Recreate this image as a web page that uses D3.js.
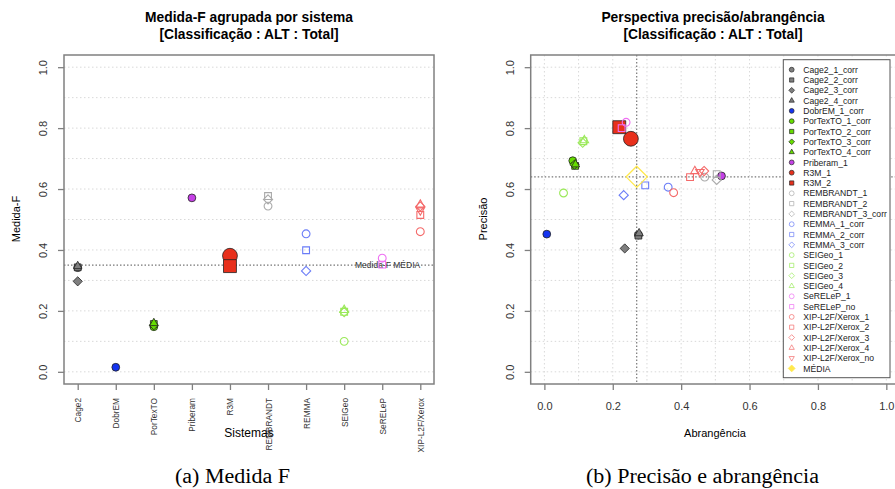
<!DOCTYPE html>
<html>
<head>
<meta charset="utf-8">
<script src="https://cdn.jsdelivr.net/npm/d3@7"></script>
<style>
  body { margin: 0; background: #fff; }
  svg { display: block; font-family: "Liberation Sans", Arial, sans-serif; }
</style>
</head>
<body>
<div id="screen"></div>
<script>
var width = 895;
var height = 489;

// systems (x categories of the left chart)
var systems = ["Cage2", "DobrEM", "PorTexTO", "Priberam", "R3M", "REMBRANDT", "REMMA", "SEIGeo", "SeRELeP", "XIP-L2F/Xerox"];

// runs and which system they belong to
var runs = ["Cage2_1_corr", "Cage2_2_corr", "Cage2_3_corr", "Cage2_4_corr", "DobrEM_1_corr",
  "PorTexTO_1_corr", "PorTexTO_2_corr", "PorTexTO_3_corr", "PorTexTO_4_corr", "Priberam_1",
  "R3M_1", "R3M_2", "REMBRANDT_1", "REMBRANDT_2", "REMBRANDT_3_corr",
  "REMMA_1_corr", "REMMA_2_corr", "REMMA_3_corr", "SEIGeo_1", "SEIGeo_2", "SEIGeo_3", "SEIGeo_4",
  "SeRELeP_1", "SeRELeP_no", "XIP-L2F/Xerox_1", "XIP-L2F/Xerox_2", "XIP-L2F/Xerox_3",
  "XIP-L2F/Xerox_4", "XIP-L2F/Xerox_no"];
var runSystem = [0, 0, 0, 0, 1, 2, 2, 2, 2, 3, 4, 4, 5, 5, 5, 6, 6, 6, 7, 7, 7, 7, 8, 8, 9, 9, 9, 9, 9];

// values
var fValue = [0.342, 0.343, 0.297, 0.347, 0.015, 0.148, 0.157, 0.153, 0.160, 0.571,
  0.381, 0.347, 0.544, 0.577, 0.566, 0.453, 0.399, 0.331, 0.100, 0.197, 0.196, 0.203,
  0.373, 0.352, 0.460, 0.515, 0.543, 0.549, 0.530];
var recall = [0.275, 0.275, 0.235, 0.277, 0.007, 0.083, 0.090, 0.088, 0.091, 0.518,
  0.253, 0.219, 0.469, 0.504, 0.504, 0.362, 0.295, 0.232, 0.056, 0.114, 0.112, 0.117,
  0.239, 0.226, 0.378, 0.426, 0.467, 0.440, 0.455];
var precision = [0.449, 0.447, 0.405, 0.455, 0.452, 0.693, 0.676, 0.680, 0.681, 0.643,
  0.765, 0.803, 0.639, 0.649, 0.630, 0.606, 0.612, 0.580, 0.587, 0.757, 0.752, 0.760,
  0.819, 0.800, 0.588, 0.639, 0.659, 0.659, 0.656];

var meanF = 0.35;
var meanRecall = 0.27;
var meanPrecision = 0.64;

var ticks = [0, 0.2, 0.4, 0.6, 0.8, 1.0];
var gridTicks = [0, 0.1, 0.2, 0.3, 0.4, 0.5, 0.6, 0.7, 0.8, 0.9, 1.0];

// styles
var sysColor = ["#7f7f7f", "#1434f0", "#66dd00", "#c540e6", "#e8301c", "#aaaaaa", "#6a7cf7", "#9be95a", "#ee70f2", "#f46a6a"];
var sysFilled = [true, true, true, true, true, false, false, false, false, false];
var sysScale = [1, 1, 1, 1, 1.9, 1, 1, 1, 1, 1];
var shapeOrder = ["circle", "square", "diamond", "up", "down"];
var mediaColor = "#ffe84d";
var boxColor = "#808080";
var gridColor = "#d9d9d9";
var refColor = "#777";

var runShape = runs.map(function(r, i){
  var k = 0;
  for (var j = 0; j < i; j++) if (runSystem[j] == runSystem[i]) k++;
  return shapeOrder[k];
});

var shapePath = function(shape, k){
  var s;
  if (shape == "circle"){ s = 3.9 * k; return "M" + s + ",0A" + s + "," + s + " 0 1,1 " + (-s) + ",0A" + s + "," + s + " 0 1,1 " + s + ",0Z"; }
  if (shape == "square"){ s = 3.4 * k; return "M" + (-s) + "," + (-s) + "H" + s + "V" + s + "H" + (-s) + "Z"; }
  if (shape == "diamond"){ s = 4.6 * k; return "M0," + (-s) + "L" + s + ",0L0," + s + "L" + (-s) + ",0Z"; }
  if (shape == "up"){ s = 4.2 * k; return "M0," + (-1.15 * s) + "L" + s + "," + (0.6 * s) + "L" + (-s) + "," + (0.6 * s) + "Z"; }
  s = 4.2 * k; return "M0," + (1.15 * s) + "L" + s + "," + (-0.6 * s) + "L" + (-s) + "," + (-0.6 * s) + "Z";
};

var styleMark = function(sel, i){
  var c = sysColor[runSystem[i]];
  if (sysFilled[runSystem[i]]){
    sel.attr("fill", c).attr("stroke", "#222").attr("stroke-width", 0.8);
  } else {
    sel.attr("fill", "none").attr("stroke", c).attr("stroke-width", 1.1);
  }
};

var svg = d3.select("#screen").append("svg").attr("width", width).attr("height", height);

// ---------- left chart: Medida-F ----------
var xL = d3.scaleLinear().domain([0.64, 10.36]).range([64, 434]);
var yL = d3.scaleLinear().domain([-0.04, 1.04]).range([384, 55]);

var left = svg.append("g");
left.selectAll("line.grid").data(gridTicks).enter().append("line")
  .attr("x1", 64).attr("x2", 434)
  .attr("y1", function(d){ return yL(d); }).attr("y2", function(d){ return yL(d); })
  .attr("stroke", gridColor).attr("stroke-dasharray", "1.5,2.5");

left.append("line").attr("x1", 64).attr("x2", 434).attr("y1", yL(meanF)).attr("y2", yL(meanF))
  .attr("stroke", refColor).attr("stroke-width", 1.2).attr("stroke-dasharray", "1.5,2");
left.append("text").attr("x", 355).attr("y", yL(meanF) + 3).attr("font-size", 8.5).attr("fill", "#333")
  .text("Medida-F MÉDIA");

var yAxisL = left.append("g").attr("transform", "translate(64,0)")
  .call(d3.axisLeft(yL).tickValues(ticks).tickSize(6).tickFormat(d3.format(".1f")));
var xAxisL = left.append("g").attr("transform", "translate(0,384)")
  .call(d3.axisBottom(xL).tickValues(d3.range(1, 11)).tickSize(6).tickFormat(function(d){ return systems[d - 1]; }));

[yAxisL, xAxisL].forEach(function(a){
  a.select(".domain").remove();
  a.selectAll("line").attr("stroke", boxColor).attr("stroke-width", 1.3);
  a.selectAll("text").attr("fill", "#333").attr("font-family", "Liberation Sans, Arial, sans-serif");
});
yAxisL.selectAll("text").attr("x", 0).attr("dy", 0).attr("font-size", 11)
  .attr("text-anchor", "middle").attr("transform", "translate(-17,0) rotate(-90)");
xAxisL.selectAll("text").attr("x", 0).attr("y", 0).attr("dy", 0).attr("font-size", 8.3)
  .attr("text-anchor", "end").attr("transform", "translate(3,14) rotate(-90)");

left.append("rect").attr("x", 64).attr("y", 55).attr("width", 370).attr("height", 329)
  .attr("fill", "none").attr("stroke", boxColor).attr("stroke-width", 1.5);

left.selectAll("path.mark").data(runs).enter().append("path")
  .attr("class", "mark")
  .attr("transform", function(d, i){ return "translate(" + xL(runSystem[i] + 1) + "," + yL(fValue[i]) + ")"; })
  .attr("d", function(d, i){ return shapePath(runShape[i], sysScale[runSystem[i]]); })
  .each(function(d, i){ styleMark(d3.select(this), i); });

left.append("text").attr("x", 249).attr("y", 22).attr("text-anchor", "middle")
  .attr("font-size", 13.8).attr("font-weight", "bold").text("Medida-F agrupada por sistema");
left.append("text").attr("x", 249).attr("y", 38.5).attr("text-anchor", "middle")
  .attr("font-size", 13.8).attr("font-weight", "bold").text("[Classificação : ALT : Total]");
left.append("text").attr("transform", "translate(20,219) rotate(-90)").attr("text-anchor", "middle")
  .attr("font-size", 11).text("Medida-F");
left.append("text").attr("x", 249).attr("y", 437).attr("text-anchor", "middle")
  .attr("font-size", 12).text("Sistemas");

// ---------- right chart: precisão / abrangência ----------
var xR = d3.scaleLinear().domain([-0.04, 1.04]).range([530.7, 900]);
var yR = d3.scaleLinear().domain([-0.04, 1.04]).range([384, 55]);

var right = svg.append("g");
right.selectAll("line.gh").data(gridTicks).enter().append("line")
  .attr("x1", 530.7).attr("x2", 900)
  .attr("y1", function(d){ return yR(d); }).attr("y2", function(d){ return yR(d); })
  .attr("stroke", gridColor).attr("stroke-dasharray", "1.5,2.5");
right.selectAll("line.gv").data(gridTicks).enter().append("line")
  .attr("y1", 55).attr("y2", 384)
  .attr("x1", function(d){ return xR(d); }).attr("x2", function(d){ return xR(d); })
  .attr("stroke", gridColor).attr("stroke-dasharray", "1.5,2.5");

right.append("line").attr("x1", xR(meanRecall)).attr("x2", xR(meanRecall)).attr("y1", 55).attr("y2", 384)
  .attr("stroke", refColor).attr("stroke-width", 1.2).attr("stroke-dasharray", "1.5,2");
right.append("line").attr("x1", 530.7).attr("x2", 900).attr("y1", yR(meanPrecision)).attr("y2", yR(meanPrecision))
  .attr("stroke", refColor).attr("stroke-width", 1.2).attr("stroke-dasharray", "1.5,2");

var yAxisR = right.append("g").attr("transform", "translate(530.7,0)")
  .call(d3.axisLeft(yR).tickValues(ticks).tickSize(6).tickFormat(d3.format(".1f")));
var xAxisR = right.append("g").attr("transform", "translate(0,384)")
  .call(d3.axisBottom(xR).tickValues(ticks).tickSize(6).tickFormat(d3.format(".1f")));
[yAxisR, xAxisR].forEach(function(a){
  a.select(".domain").remove();
  a.selectAll("line").attr("stroke", boxColor).attr("stroke-width", 1.3);
  a.selectAll("text").attr("fill", "#333").attr("font-size", 11).attr("font-family", "Liberation Sans, Arial, sans-serif");
});
yAxisR.selectAll("text").attr("x", 0).attr("dy", 0)
  .attr("text-anchor", "middle").attr("transform", "translate(-17,0) rotate(-90)");
xAxisR.selectAll("text").attr("y", 0).attr("dy", 0).attr("transform", "translate(0,26)");

right.append("rect").attr("x", 530.7).attr("y", 55).attr("width", 369.3).attr("height", 329)
  .attr("fill", "none").attr("stroke", boxColor).attr("stroke-width", 1.5);

right.selectAll("path.mark").data(runs).enter().append("path")
  .attr("class", "mark")
  .attr("transform", function(d, i){ return "translate(" + xR(recall[i]) + "," + yR(precision[i]) + ")"; })
  .attr("d", function(d, i){ return shapePath(runShape[i], sysScale[runSystem[i]]); })
  .each(function(d, i){ styleMark(d3.select(this), i); });

right.append("path")
  .attr("transform", "translate(" + xR(meanRecall) + "," + yR(meanPrecision) + ")")
  .attr("d", shapePath("diamond", 2.3))
  .attr("fill", "none").attr("stroke", mediaColor).attr("stroke-width", 1.3);

// legend
var legend = right.append("g");
legend.append("rect").attr("x", 783.3).attr("y", 59.7).attr("width", 106.7).attr("height", 318)
  .attr("fill", "#fff").attr("stroke", "#555").attr("stroke-width", 1);
var legendRows = runs.concat(["MÉDIA"]);
var rowY = function(i){ return 69.7 + i * 10.3; };
legend.selectAll("path.lm").data(legendRows).enter().append("path")
  .attr("class", "lm")
  .attr("transform", function(d, i){ return "translate(791.7," + rowY(i) + ")"; })
  .attr("d", function(d, i){ return shapePath(i < runs.length ? runShape[i] : "diamond", i < runs.length ? 0.62 : 0.75); })
  .each(function(d, i){
    if (i < runs.length) styleMark(d3.select(this), i);
    else d3.select(this).attr("fill", mediaColor).attr("stroke", mediaColor);
  });
legend.selectAll("path.lm").attr("stroke-width", 0.7);
legend.selectAll("text").data(legendRows).enter().append("text")
  .attr("x", 803.3).attr("y", function(d, i){ return rowY(i) + 3.1; })
  .attr("font-size", 8.6).attr("fill", "#222").text(function(d){ return d; });

right.append("text").attr("x", 713).attr("y", 22).attr("text-anchor", "middle")
  .attr("font-size", 13.8).attr("font-weight", "bold").text("Perspectiva precisão/abrangência");
right.append("text").attr("x", 713).attr("y", 38.5).attr("text-anchor", "middle")
  .attr("font-size", 13.8).attr("font-weight", "bold").text("[Classificação : ALT : Total]");
right.append("text").attr("transform", "translate(487,219) rotate(-90)").attr("text-anchor", "middle")
  .attr("font-size", 11).text("Precisão");
right.append("text").attr("x", 715).attr("y", 437).attr("text-anchor", "middle")
  .attr("font-size", 11).text("Abrangência");

// captions
svg.append("text").attr("x", 175).attr("y", 483)
  .attr("font-family", "Liberation Serif, Times New Roman, serif").attr("font-size", 20)
  .attr("textLength", 115).attr("lengthAdjust", "spacingAndGlyphs").text("(a)  Medida F");
svg.append("text").attr("x", 586).attr("y", 483)
  .attr("font-family", "Liberation Serif, Times New Roman, serif").attr("font-size", 20)
  .attr("textLength", 233).attr("lengthAdjust", "spacingAndGlyphs").text("(b)  Precisão e abrangência");
</script>
</body>
</html>
